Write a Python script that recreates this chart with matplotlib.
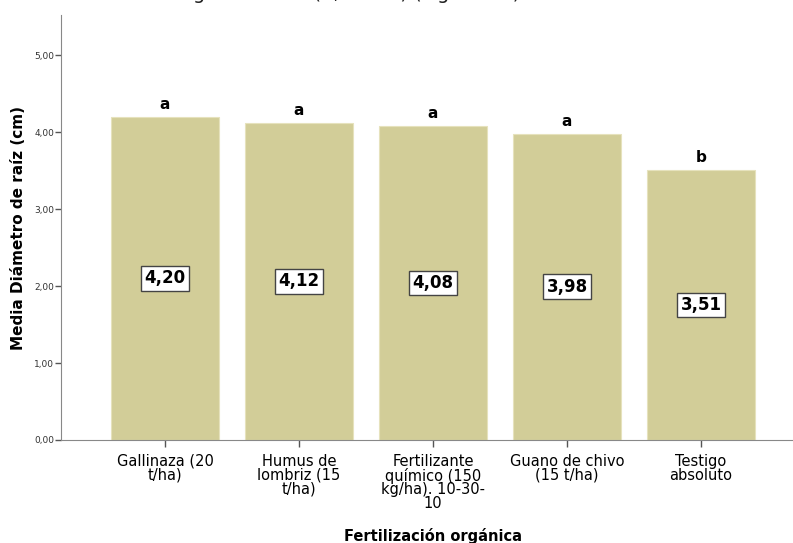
import matplotlib
matplotlib.use("Agg")
import matplotlib.pyplot as plt
import numpy as np

categorias = ["Gallinaza (20\nt/ha)", "Humus de\nlombriz (15\nt/ha)",
              "Fertilizante\nquímico (150\nkg/ha). 10-30-\n10",
              "Guano de chivo\n(15 t/ha)", "Testigo\nabsoluto"]
medias = [4.20, 4.12, 4.08, 3.98, 3.51]
etiquetas = ["4,20", "4,12", "4,08", "3,98", "3,51"]
letras = ["a", "a", "a", "a", "b"]
yticks = [0, 1, 2, 3, 4, 5]
ytick_labels = ["0,00", "1,00", "2,00", "3,00", "4,00", "5,00"]

W, H = 793, 543
fig = plt.figure(figsize=(W / 100, H / 100), dpi=100)
ax = fig.add_axes([61 / W, 103 / H, 744 / W, 425 / H])

x = np.arange(len(medias))
ax.bar(x, medias, width=0.8, color="#d2cd98", edgecolor="#e6e2bd", linewidth=0.8)

for xi, m, et, le in zip(x, medias, etiquetas, letras):
    ax.text(xi, m / 2, et, ha="center", va="center", fontsize=12, fontweight="bold",
            bbox=dict(boxstyle="square,pad=0.2", fc="white", ec="#444444", lw=1))
    ax.text(xi, m + 0.06, le, ha="center", va="bottom", fontsize=11, fontweight="bold")

ax.set_xlim(-0.776, 4.776)
ax.set_ylim(0, 5.52)
ax.set_xticks(x)
ax.set_xticklabels(categorias, fontsize=10.5, linespacing=0.9)
ax.set_yticks(yticks)
ax.set_yticklabels(ytick_labels, fontsize=6.5, color="#333333")
ax.tick_params(axis="both", direction="out", length=5, color="#555555", width=1)
ax.tick_params(axis="x", pad=5)
ax.tick_params(axis="y", length=4, pad=1)

for s in ["top", "right"]:
    ax.spines[s].set_visible(False)
for s in ["left", "bottom"]:
    ax.spines[s].set_color("#888888")

ax.set_ylabel("Media Diámetro de raíz (cm)", fontsize=11, fontweight="bold", labelpad=6)
ax.set_xlabel("Fertilización orgánica", fontsize=10.5, fontweight="bold", labelpad=12)

# linea de texto cortada en la parte superior
fig.text(520 / W, 1 + 1 / H, "testigo absoluto (3,51 cm) (Figura 11)", ha="right",
         va="baseline", fontsize=14, color="#222222")

fig.savefig("out.png", dpi=100)
